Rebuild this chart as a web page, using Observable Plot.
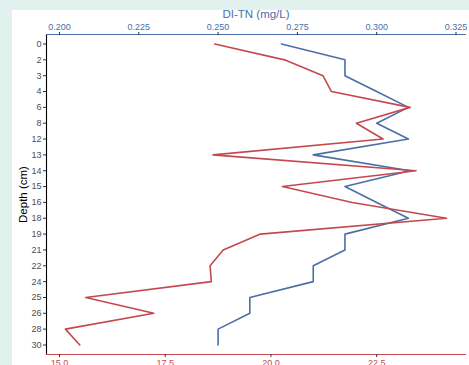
<!DOCTYPE html>
<html>
<head>
<meta charset="utf-8">
<script src="https://cdn.jsdelivr.net/npm/d3@7"></script>
<script src="https://cdn.jsdelivr.net/npm/@observablehq/plot@0.6"></script>
<style>
  html, body { margin: 0; padding: 0; background: #e1f1ed; width: 469px; height: 365px; overflow: hidden; }
  #panel { position: absolute; left: 12px; top: 10px; width: 457px; height: 355px; background: #ffffff; }
</style>
</head>
<body>
<div id="panel"></div>
<script>
// Depth categories (cm), top to bottom
const depths = ["0","2","3","4","6","8","12","13","14","15","16","18","19","21","22","24","25","26","28","30"];
// DI-TN (mg/L), top axis (blue)
const diTN = [0.270, 0.290, 0.290, 0.300, 0.310, 0.300, 0.310, 0.280, 0.3105, 0.290, 0.300, 0.310, 0.290, 0.290, 0.280, 0.280, 0.260, 0.260, 0.250, 0.250];
// Second series, bottom axis (red); secondary axis = DI-TN * 75
const redSeries = [18.67, 20.32, 21.23, 21.43, 23.29, 22.02, 22.65, 18.63, 23.43, 20.27, 21.92, 24.15, 19.75, 18.87, 18.56, 18.59, 15.62, 17.23, 15.14, 15.48];
const topTicks = [0.200, 0.225, 0.250, 0.275, 0.300, 0.325];
const bottomTicks = [15.0, 17.5, 20.0, 22.5];
const secFactor = 75;

const blue = "#4a6fa7";
const red = "#c4494f";

const blueData = depths.map((d, i) => ({depth: d, v: diTN[i]}));
const redData = depths.map((d, i) => ({depth: d, v: redSeries[i] / secFactor}));

const chart = Plot.plot({
  width: 457,
  height: 355,
  marginLeft: 34,
  marginRight: 4,
  marginTop: 24,
  marginBottom: 11,
  style: {background: "transparent", fontFamily: "'Liberation Sans', Arial, sans-serif", fontSize: "9px", overflow: "visible"},
  x: {domain: [0.1959, 0.3280]},
  y: {type: "point", domain: depths, padding: 0.6, round: false},
  marks: [
    Plot.frame({anchor: "left", stroke: "#000", strokeWidth: 1.1}),
    Plot.frame({anchor: "top", stroke: blue, strokeWidth: 1.1}),
    Plot.frame({anchor: "bottom", stroke: red, strokeWidth: 1.1}),
    Plot.axisX(topTicks, {anchor: "top", tickFormat: d3.format(".3f"), fill: blue, stroke: "#333", tickSize: 3, tickPadding: 2,
      label: "DI-TN (mg/L)", labelAnchor: "center", labelArrow: "none", labelOffset: 25}),
    Plot.axisX(bottomTicks.map(d => d / secFactor), {anchor: "bottom", tickFormat: d => d3.format(".1f")(d * secFactor), fill: red, stroke: "#333", tickSize: 3, tickPadding: 2, label: null}),
    Plot.axisY({tickSize: 3, tickPadding: 2, fill: "#4d4d4d", stroke: "#333", label: "Depth (cm)", labelAnchor: "center", labelArrow: "none", labelOffset: 28}),
    Plot.line(blueData, {x: "v", y: "depth", stroke: blue, strokeWidth: 1.6}),
    Plot.line(redData, {x: "v", y: "depth", stroke: red, strokeWidth: 1.6})
  ]
});
document.getElementById("panel").appendChild(chart);
// axis titles styling
d3.select(chart).selectAll("text").filter(function() { return this.textContent === "DI-TN (mg/L)"; })
  .attr("fill", blue).style("font-size", "11.5px");
d3.select(chart).selectAll("text").filter(function() { return this.textContent === "Depth (cm)"; })
  .attr("fill", "#000").style("font-size", "11.5px");
</script>
</body>
</html>
